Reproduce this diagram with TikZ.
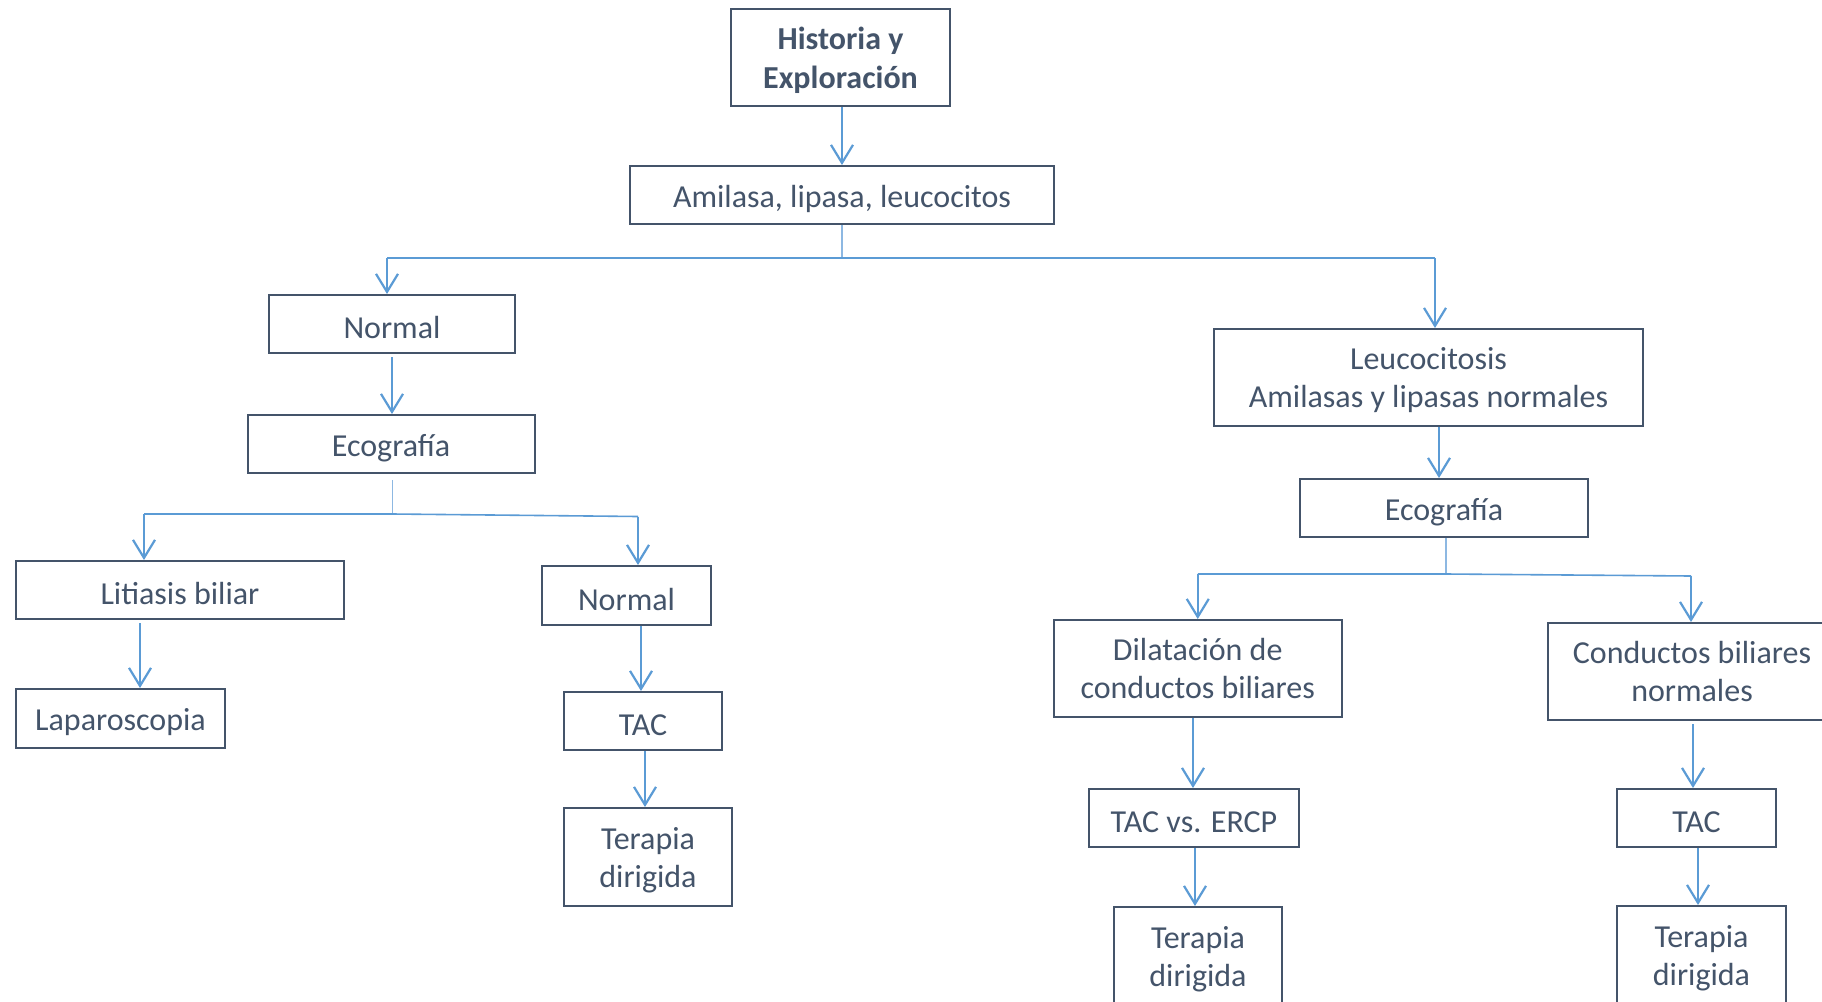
\documentclass[tikz,border=0pt]{standalone}
\usepackage{fontspec}
\setmainfont{Carlito}
\usetikzlibrary{arrows.meta,calc}
\definecolor{boxline}{HTML}{44546A}
\definecolor{flow}{HTML}{5B9BD5}
\definecolor{flowlight}{HTML}{8DB8E2}
\begin{document}
\begin{tikzpicture}[x=1pt,y=-1pt,
  box/.style={draw=boxline,line width=2pt,text=boxline,align=center,
    inner sep=0pt,font=\fontsize{32}{38}\selectfont,
    execute at begin node={\rule{0pt}{30pt}}},
  twoline/.style={box,text depth=0pt},
  arr/.style={draw=flow,line width=2.4pt,
    -{Straight Barb[length=18pt,width=22pt,line width=2.2pt]}},
  branch/.style={draw=flow,line width=1.6pt},
  stem/.style={draw=flowlight,line width=1.3pt}]
\useasboundingbox (0,0) rectangle (1822,1001);
\clip (0,0) rectangle (1822,1001);
\fill[white] (0,0) rectangle (1822,1001);

% top of the tree
\node[twoline,font=\fontsize{32}{39}\selectfont\bfseries,minimum width=219pt,minimum height=97pt] (hist) at (840.5,57.5) {Historia y\\Exploración};
\node[box,minimum width=424pt,minimum height=58pt] (amil) at (842,195) {Amilasa, lipasa, leucocitos};

% left branch
\node[box,minimum width=246pt,minimum height=58pt] (norm1) at (392,324) {Normal};
\node[box,minimum width=287pt,minimum height=58pt] (eco1) at (391,444) {Ecografía};
\node[box,minimum width=328pt,minimum height=58pt] (lit) at (180,590) {Litiasis biliar};
\node[box,minimum width=209pt,minimum height=59pt] (lap) at (120.5,718.5) {Laparoscopia};
\node[box,minimum width=169pt,minimum height=59pt] (norm2) at (626.5,595.5) {Normal};
\node[box,minimum width=158pt,minimum height=58pt] (tac1) at (643,721) {TAC};
\node[twoline,minimum width=168pt,minimum height=98pt] (ter1) at (648,857) {Terapia\\dirigida};

% right branch
\node[twoline,minimum width=429pt,minimum height=97pt] (leu) at (1428.5,377.5) {Leucocitosis\\Amilasas y lipasas normales};
\node[box,minimum width=288pt,minimum height=58pt] (eco2) at (1444,508) {Ecografía};
\node[twoline,minimum width=288pt,minimum height=97pt] (dil) at (1197.75,668.5) {Dilatación de\\conductos biliares};
\node[box,minimum width=210pt,minimum height=58pt] (tacerc) at (1194,818) {TAC vs. ERCP};
\node[twoline,minimum width=168pt,minimum height=98pt] (ter2) at (1198,956) {Terapia\\dirigida};
\node[twoline,minimum width=288pt,minimum height=97pt] (cond) at (1692,671.5) {Conductos biliares\\normales};
\node[box,minimum width=159pt,minimum height=58pt] (tac2) at (1696.5,818) {TAC};
\node[twoline,minimum width=169pt,minimum height=98pt] (ter3) at (1701.5,955) {Terapia\\dirigida};

% connectors (y grows downwards, so ++(0,d) steps down)
\draw[arr] ([xshift=1.5pt]hist.south) -- ([xshift=1.5pt]hist.south |- amil.north);

\draw[stem] (amil.south) -- ++(0,33) coordinate (j1);
\draw[branch] ([xshift=-5pt]norm1.north |- j1) -- ([xshift=6.5pt]leu.north |- j1);
\draw[arr] ([xshift=-5pt]norm1.north |- j1) -- ([xshift=-5pt]norm1.north);
\draw[arr] ([xshift=6.5pt]leu.north |- j1) -- ([xshift=6.5pt]leu.north);

\draw[arr] ([yshift=-3pt]norm1.south) -- (norm1.south |- eco1.north);

\draw[stem] ([xshift=1.5pt,yshift=-6pt]eco1.south) -- ++(0,34) coordinate (j2);
\draw[branch] ([xshift=-36pt]lit.north |- j2) -- (j2) -- ([xshift=11.5pt,yshift=-2.5pt]norm2.north |- j2);
\draw[arr] ([xshift=-36pt]lit.north |- j2) -- ([xshift=-36pt]lit.north);
\draw[arr] ([xshift=11.5pt,yshift=-2.5pt]norm2.north |- j2) -- ([xshift=11.5pt]norm2.north);

\draw[arr] ([xshift=-40pt,yshift=-3pt]lit.south) -- ([xshift=19.5pt]lap.north);
\draw[arr] ([xshift=-2pt]tac1.north |- norm2.south) -- ([xshift=-2pt]tac1.north);
\draw[arr] ([xshift=2pt]tac1.south) -- ([xshift=2pt]tac1.south |- ter1.north);

\draw[arr] ([xshift=10.5pt]leu.south) -- ([xshift=10.5pt]leu.south |- eco2.north);

\draw[stem] ([xshift=2pt]eco2.south) -- ++(0,36) coordinate (j3);
\draw[branch] (dil.north |- j3) -- (j3) -- ([xshift=-1pt,yshift=-2pt]cond.north |- j3);
\draw[arr] (dil.north |- j3) -- (dil.north);
\draw[arr] ([xshift=-1pt,yshift=-2pt]cond.north |- j3) -- ([xshift=-1pt]cond.north);

\draw[arr] ([xshift=-1pt]tacerc.north |- dil.south) -- ([xshift=-1pt]tacerc.north);
\draw[arr] ([xshift=1pt]tacerc.south) -- ([xshift=1pt]tacerc.south |- ter2.north);
\draw[arr] ([xshift=1pt,yshift=-3pt]cond.south) -- ([xshift=1pt]cond.south |- tac2.north);
\draw[arr] ([xshift=1.5pt]tac2.south) -- ([xshift=1.5pt]tac2.south |- ter3.north);
\end{tikzpicture}
\end{document}
